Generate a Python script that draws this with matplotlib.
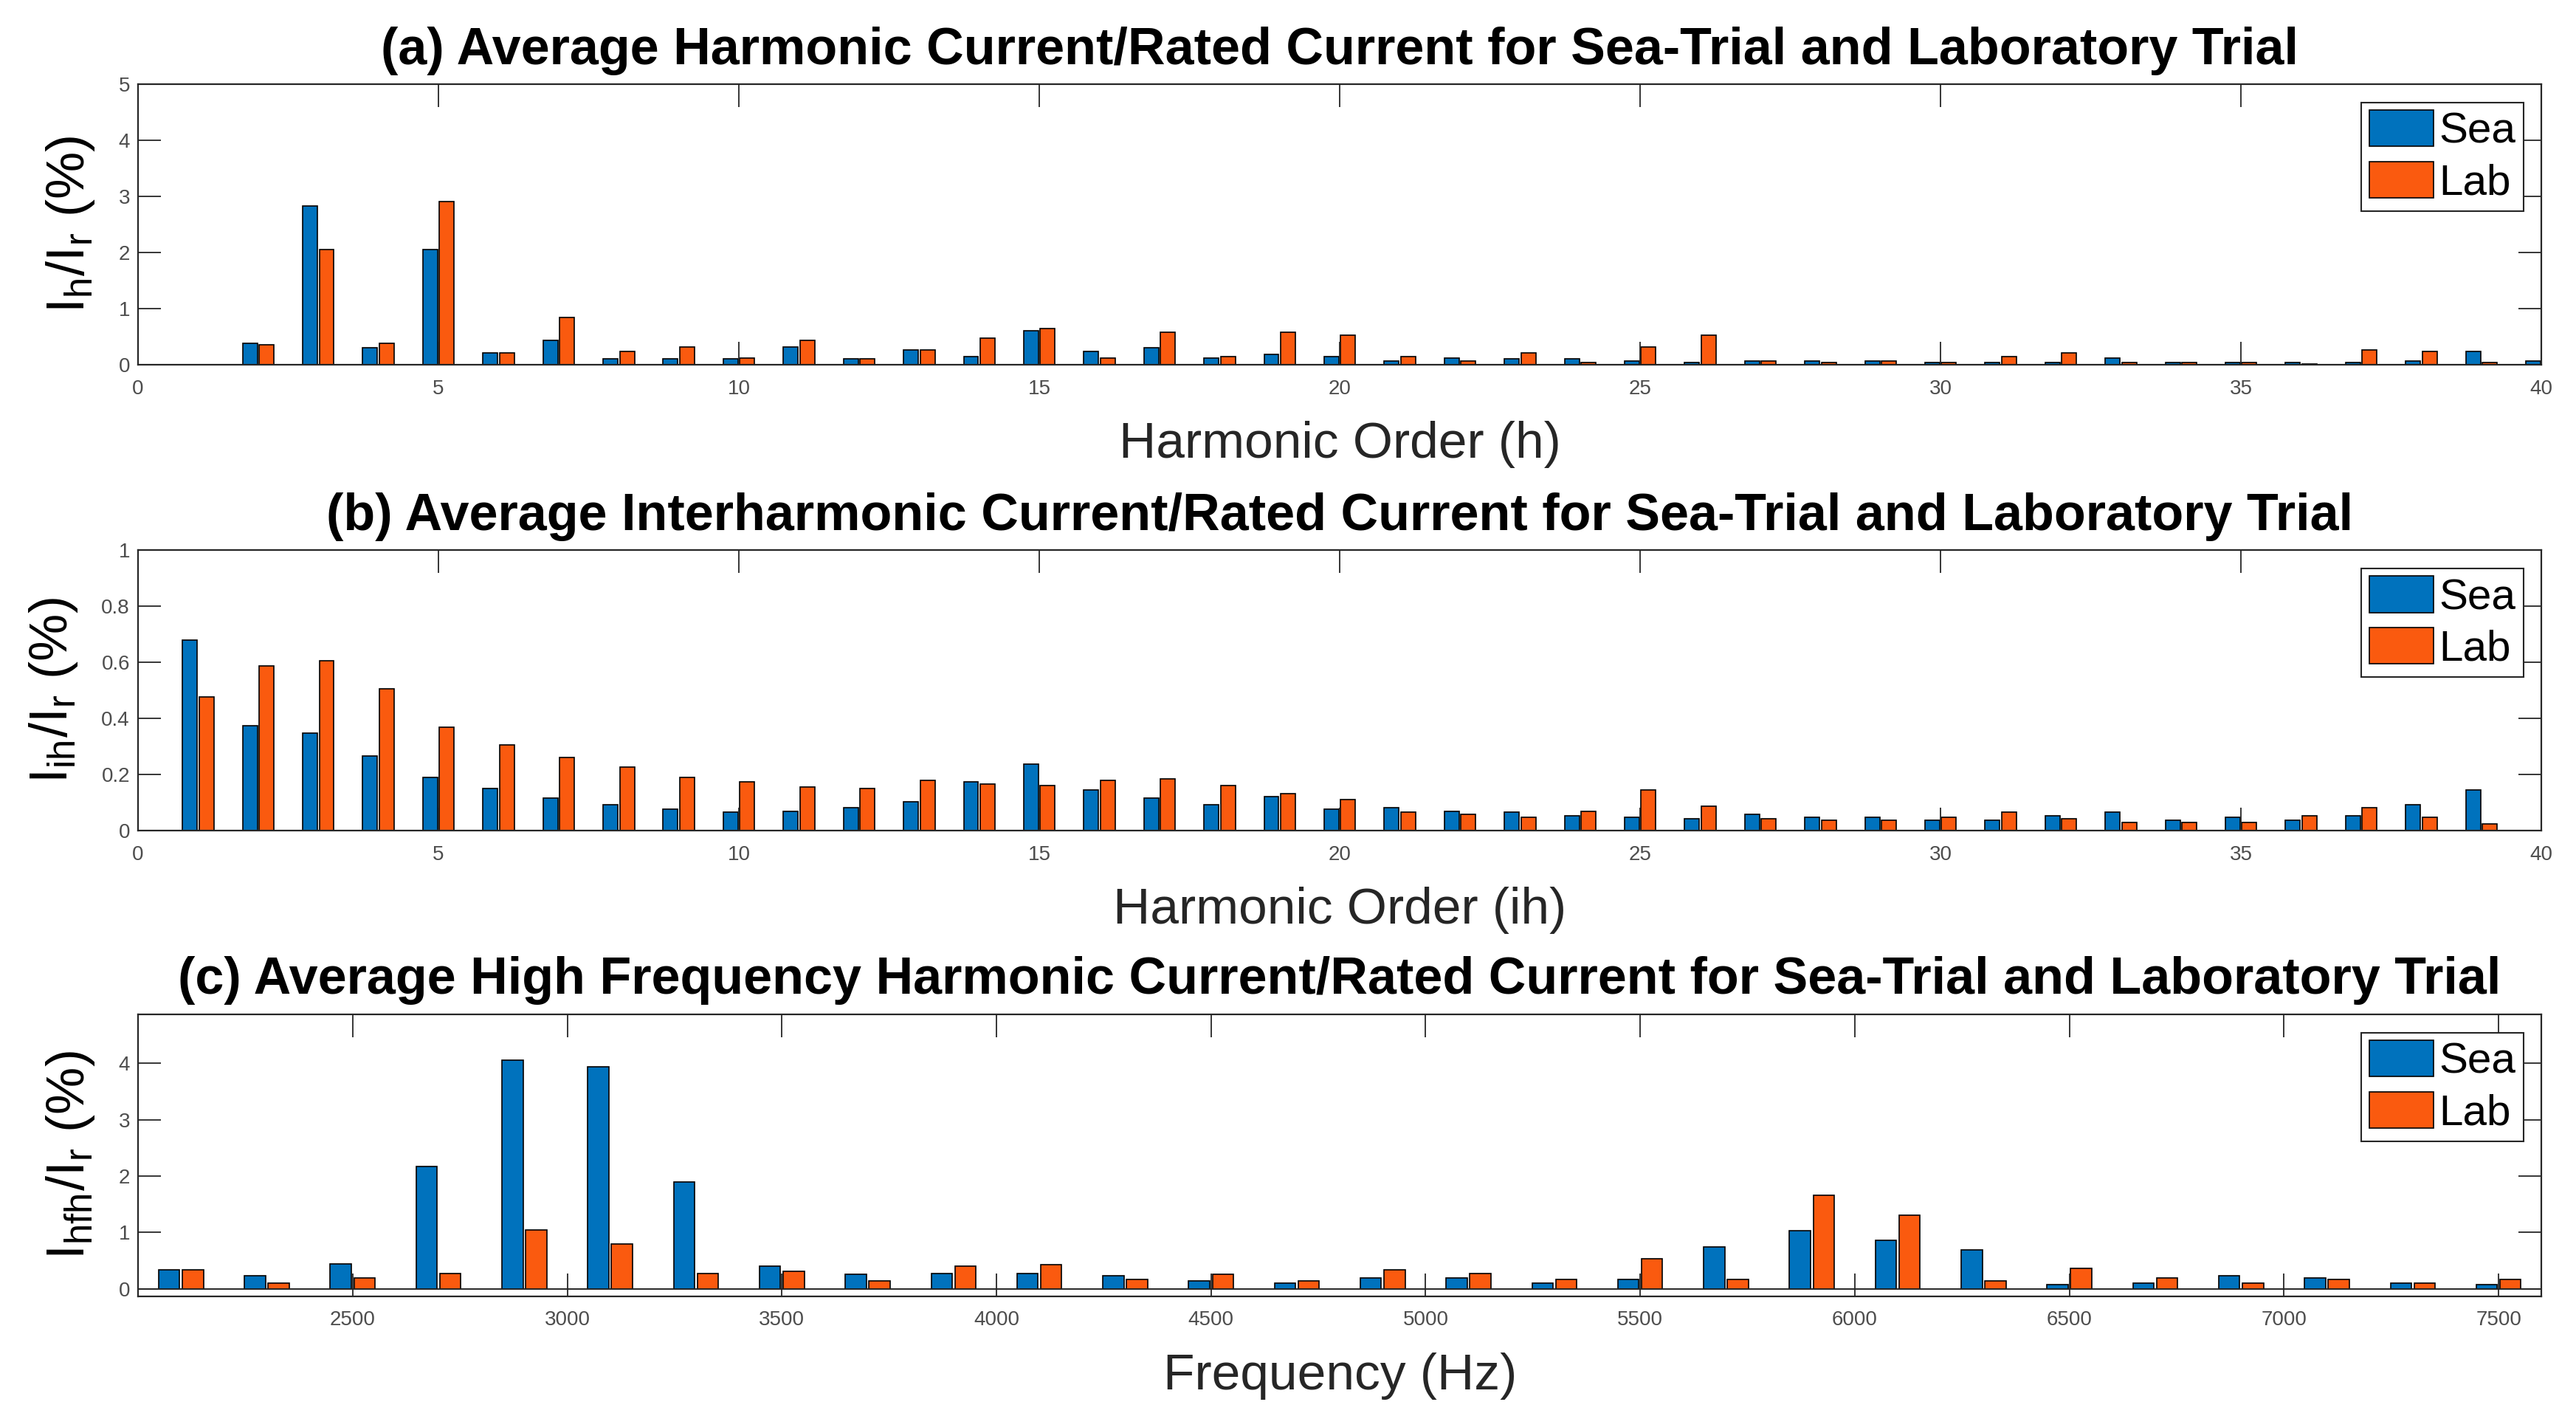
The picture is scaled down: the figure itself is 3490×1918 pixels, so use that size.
import numpy as np
import matplotlib
matplotlib.use('Agg')
import matplotlib.pyplot as plt

plt.rcParams['font.family'] = ['Liberation Sans', 'DejaVu Sans']
plt.rcParams['mathtext.fontset'] = 'custom'
plt.rcParams['mathtext.rm'] = 'Liberation Sans'

# (a) harmonic orders 1..40
harm_order = np.arange(1, 41)
harm_sea = [0.00, 0.38, 2.83, 0.30, 2.05, 0.21, 0.44, 0.10, 0.10, 0.10,
            0.32, 0.10, 0.26, 0.15, 0.61, 0.24, 0.30, 0.12, 0.18, 0.15,
            0.07, 0.12, 0.10, 0.10, 0.07, 0.04, 0.07, 0.07, 0.07, 0.04,
            0.04, 0.04, 0.12, 0.04, 0.04, 0.04, 0.04, 0.07, 0.24, 0.07]
harm_lab = [0.00, 0.36, 2.05, 0.38, 2.91, 0.21, 0.84, 0.24, 0.32, 0.12,
            0.44, 0.10, 0.26, 0.47, 0.64, 0.12, 0.58, 0.15, 0.58, 0.53,
            0.15, 0.07, 0.21, 0.04, 0.32, 0.53, 0.07, 0.04, 0.07, 0.04,
            0.15, 0.21, 0.04, 0.04, 0.04, 0.01, 0.26, 0.24, 0.04, 0.04]

# (b) interharmonic orders 1..39
ih_order = np.arange(1, 40)
ih_sea = [0.680, 0.375, 0.347, 0.266, 0.191, 0.151, 0.116, 0.093, 0.076, 0.066,
          0.070, 0.081, 0.104, 0.173, 0.237, 0.144, 0.116, 0.093, 0.122, 0.076,
          0.081, 0.070, 0.066, 0.053, 0.047, 0.042, 0.059, 0.047, 0.047, 0.036,
          0.036, 0.053, 0.065, 0.036, 0.047, 0.036, 0.053, 0.093, 0.144]
ih_lab = [0.478, 0.587, 0.605, 0.507, 0.369, 0.306, 0.260, 0.226, 0.191, 0.173,
          0.156, 0.151, 0.179, 0.167, 0.162, 0.179, 0.185, 0.162, 0.133, 0.110,
          0.065, 0.059, 0.047, 0.070, 0.144, 0.088, 0.042, 0.036, 0.036, 0.047,
          0.065, 0.042, 0.030, 0.030, 0.030, 0.053, 0.082, 0.047, 0.025]

# (c) high frequency bands (Hz)
hf_freq = [2100, 2300, 2500, 2700, 2900, 3100, 3300, 3500, 3700, 3900,
           4100, 4300, 4500, 4700, 4900, 5100, 5300, 5500, 5700, 5900,
           6100, 6300, 6500, 6700, 6900, 7100, 7300, 7500]
hf_sea = [0.34, 0.23, 0.45, 2.17, 4.05, 3.94, 1.89, 0.40, 0.26, 0.28,
          0.28, 0.23, 0.14, 0.11, 0.20, 0.20, 0.11, 0.17, 0.74, 1.03,
          0.86, 0.69, 0.08, 0.11, 0.23, 0.20, 0.11, 0.08]
hf_lab = [0.34, 0.11, 0.20, 0.28, 1.05, 0.80, 0.28, 0.31, 0.14, 0.40,
          0.43, 0.17, 0.26, 0.14, 0.34, 0.28, 0.17, 0.54, 0.17, 1.66,
          1.31, 0.14, 0.37, 0.20, 0.11, 0.17, 0.11, 0.17]

titles = ['(a) Average Harmonic Current/Rated Current for Sea-Trial and Laboratory Trial',
          '(b) Average Interharmonic Current/Rated Current for Sea-Trial and Laboratory Trial',
          '(c) Average High Frequency Harmonic Current/Rated Current for Sea-Trial and Laboratory Trial']
xlabels = ['Harmonic Order (h)', 'Harmonic Order (ih)', 'Frequency (Hz)']
ylabels = [r'I$_\mathregular{h}$/I$_\mathregular{r}$ (%)',
           r'I$_\mathregular{ih}$/I$_\mathregular{r}$ (%)',
           r'I$_\mathregular{hfh}$/I$_\mathregular{r}$ (%)']

sea_color = '#0072BD'
lab_color = '#FA5A0F'
axis_color = '#262626'
tick_color = '#4d4d4d'

fig = plt.figure(figsize=(34.9, 19.18), dpi=100)
positions = [[0.0536, 0.7424, 0.933, 0.198],
             [0.0536, 0.4134, 0.933, 0.198],
             [0.0536, 0.0845, 0.933, 0.199]]
axes = [fig.add_axes(p) for p in positions]

panels = [(harm_order, harm_sea, harm_lab, 1.0),
          (ih_order, ih_sea, ih_lab, 1.0),
          (np.array(hf_freq), hf_sea, hf_lab, 200.0)]

for ax, (x, sea, lab, step), title, xl, yl in zip(axes, panels, titles, xlabels, ylabels):
    w = 0.245 * step
    off = 0.138 * step
    ax.bar(x - off, sea, width=w, color=sea_color, edgecolor='black', linewidth=1.2, label='Sea')
    ax.bar(x + off, lab, width=w, color=lab_color, edgecolor='black', linewidth=1.2, label='Lab')
    ax.set_title(title, fontsize=50.5, fontweight='bold', pad=20)
    ax.set_xlabel(xl, fontsize=50, color=axis_color, labelpad=22)
    ax.set_ylabel(yl, fontsize=52, color='black', labelpad=21)
    ax.tick_params(direction='in', length=22, width=1.3, top=True, right=True,
                   labelsize=20, labelcolor=tick_color, color=axis_color)
    ax.tick_params(axis='x', pad=14)
    ax.tick_params(axis='y', pad=8)
    for s in ax.spines.values():
        s.set_linewidth(1.6)
        s.set_color(axis_color)
    leg = ax.legend(loc='upper right', fontsize=42, handlelength=1.5, handleheight=0.92,
                    handletextpad=0.12, labelspacing=0.22, borderpad=0.18,
                    borderaxespad=0.42, fancybox=False, framealpha=1, edgecolor=axis_color)
    leg.get_frame().set_linewidth(1.5)

axes[0].set_xlim(0, 40)
axes[0].set_ylim(0, 5)
axes[0].set_xticks(np.arange(0, 41, 5))
axes[0].set_yticks([0, 1, 2, 3, 4, 5])

axes[1].set_xlim(0, 40)
axes[1].set_ylim(0, 1)
axes[1].set_xticks(np.arange(0, 41, 5))
axes[1].set_yticks([0, 0.2, 0.4, 0.6, 0.8, 1])
axes[1].set_yticklabels(['0', '0.2', '0.4', '0.6', '0.8', '1'])

axes[2].set_xlim(2000, 7600)
axes[2].set_ylim(-0.13, 4.86)
axes[2].set_xticks(np.arange(2500, 7501, 500))
axes[2].set_yticks([0, 1, 2, 3, 4])
axes[2].axhline(0, color=axis_color, linewidth=1.4, zorder=1)

fig.savefig('out.png', dpi=100, facecolor='white')
